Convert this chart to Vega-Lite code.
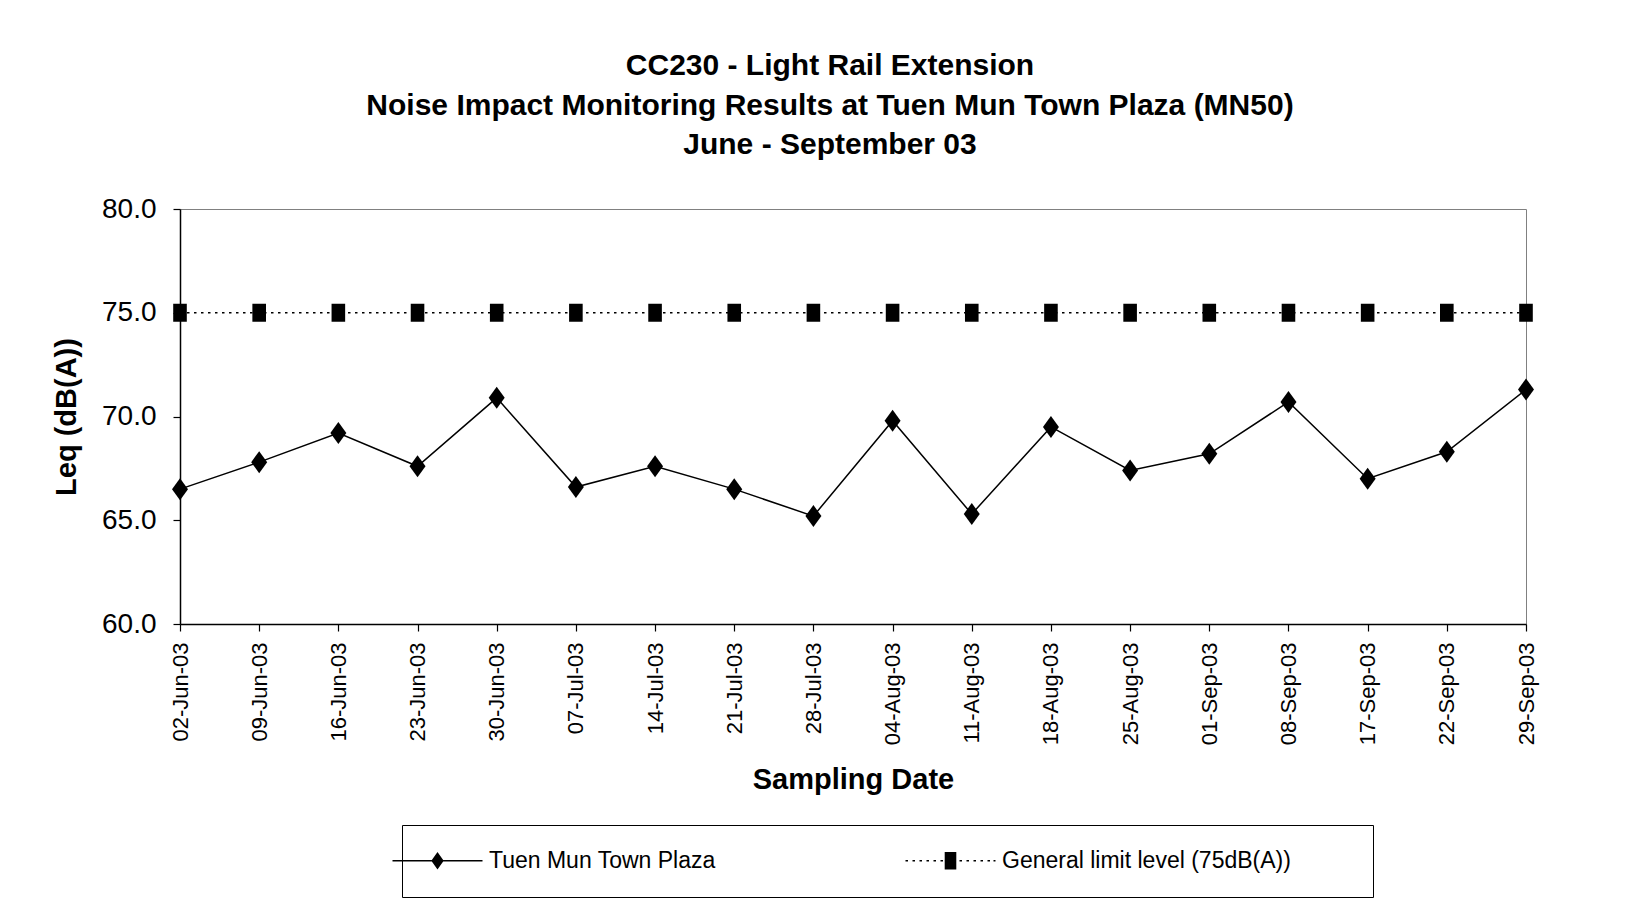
{
  "$schema": "https://vega.github.io/schema/vega-lite/v6.json",
  "width": 1346,
  "height": 415,
  "autosize": "none",
  "padding": {"left": 180, "top": 209, "right": 105, "bottom": 288},
  "background": "white",
  "title": {
    "text": ["CC230 - Light Rail Extension", "Noise Impact Monitoring Results at Tuen Mun Town Plaza (MN50)", "June - September 03"],
    "font": "Liberation Sans",
    "fontSize": 30,
    "fontWeight": "bold",
    "lineHeight": 39.5,
    "anchor": "middle",
    "frame": "group",
    "dx": -23,
    "offset": 35,
    "color": "black"
  },
  "data": {
    "values": [
      {"date": "02-Jun-03", "series": "Tuen Mun Town Plaza", "leq": 66.5},
      {"date": "09-Jun-03", "series": "Tuen Mun Town Plaza", "leq": 67.8},
      {"date": "16-Jun-03", "series": "Tuen Mun Town Plaza", "leq": 69.2},
      {"date": "23-Jun-03", "series": "Tuen Mun Town Plaza", "leq": 67.6},
      {"date": "30-Jun-03", "series": "Tuen Mun Town Plaza", "leq": 70.9},
      {"date": "07-Jul-03", "series": "Tuen Mun Town Plaza", "leq": 66.6},
      {"date": "14-Jul-03", "series": "Tuen Mun Town Plaza", "leq": 67.6},
      {"date": "21-Jul-03", "series": "Tuen Mun Town Plaza", "leq": 66.5},
      {"date": "28-Jul-03", "series": "Tuen Mun Town Plaza", "leq": 65.2},
      {"date": "04-Aug-03", "series": "Tuen Mun Town Plaza", "leq": 69.8},
      {"date": "11-Aug-03", "series": "Tuen Mun Town Plaza", "leq": 65.3},
      {"date": "18-Aug-03", "series": "Tuen Mun Town Plaza", "leq": 69.5},
      {"date": "25-Aug-03", "series": "Tuen Mun Town Plaza", "leq": 67.4},
      {"date": "01-Sep-03", "series": "Tuen Mun Town Plaza", "leq": 68.2},
      {"date": "08-Sep-03", "series": "Tuen Mun Town Plaza", "leq": 70.7},
      {"date": "17-Sep-03", "series": "Tuen Mun Town Plaza", "leq": 67.0},
      {"date": "22-Sep-03", "series": "Tuen Mun Town Plaza", "leq": 68.3},
      {"date": "29-Sep-03", "series": "Tuen Mun Town Plaza", "leq": 71.3},
      {"date": "02-Jun-03", "series": "General limit level (75dB(A))", "leq": 75},
      {"date": "09-Jun-03", "series": "General limit level (75dB(A))", "leq": 75},
      {"date": "16-Jun-03", "series": "General limit level (75dB(A))", "leq": 75},
      {"date": "23-Jun-03", "series": "General limit level (75dB(A))", "leq": 75},
      {"date": "30-Jun-03", "series": "General limit level (75dB(A))", "leq": 75},
      {"date": "07-Jul-03", "series": "General limit level (75dB(A))", "leq": 75},
      {"date": "14-Jul-03", "series": "General limit level (75dB(A))", "leq": 75},
      {"date": "21-Jul-03", "series": "General limit level (75dB(A))", "leq": 75},
      {"date": "28-Jul-03", "series": "General limit level (75dB(A))", "leq": 75},
      {"date": "04-Aug-03", "series": "General limit level (75dB(A))", "leq": 75},
      {"date": "11-Aug-03", "series": "General limit level (75dB(A))", "leq": 75},
      {"date": "18-Aug-03", "series": "General limit level (75dB(A))", "leq": 75},
      {"date": "25-Aug-03", "series": "General limit level (75dB(A))", "leq": 75},
      {"date": "01-Sep-03", "series": "General limit level (75dB(A))", "leq": 75},
      {"date": "08-Sep-03", "series": "General limit level (75dB(A))", "leq": 75},
      {"date": "17-Sep-03", "series": "General limit level (75dB(A))", "leq": 75},
      {"date": "22-Sep-03", "series": "General limit level (75dB(A))", "leq": 75},
      {"date": "29-Sep-03", "series": "General limit level (75dB(A))", "leq": 75}
    ]
  },
  "encoding": {
    "x": {
      "field": "date",
      "type": "ordinal",
      "sort": null,
      "scale": {"type": "point", "padding": 0},
      "axis": {
        "title": "Sampling Date",
        "labelAngle": -90,
        "labelFontSize": 22,
        "labelPadding": 11,
        "labelOverlap": false,
        "tickSize": 7,
        "titleFontSize": 29,
        "titleFontWeight": "bold",
        "titleX": 673,
        "titleY": 155,
        "titleBaseline": "middle",
        "titleAlign": "center"
      }
    },
    "y": {
      "field": "leq",
      "type": "quantitative",
      "scale": {"domain": [60, 80], "nice": false, "zero": false},
      "axis": {
        "title": "Leq (dB(A))",
        "values": [60, 65, 70, 75, 80],
        "format": ".1f",
        "labelFontSize": 28,
        "labelPadding": 17,
        "tickSize": 7,
        "titleFontSize": 29,
        "titleFontWeight": "bold",
        "titleX": -114,
        "titleY": 207.5,
        "titleAngle": 270,
        "titleBaseline": "middle",
        "titleAlign": "center"
      }
    }
  },
  "layer": [
    {
      "transform": [{"filter": "datum.series === 'Tuen Mun Town Plaza'"}],
      "mark": {"type": "line", "color": "black", "strokeWidth": 1.5},
      "encoding": {"order": {"value": null}}
    },
    {
      "transform": [{"filter": "datum.series !== 'Tuen Mun Town Plaza'"}],
      "mark": {"type": "line", "color": "black", "strokeWidth": 1.5, "strokeDash": [2.5, 4.5]},
      "encoding": {"order": {"value": null}}
    },
    {
      "mark": {"type": "point", "filled": true, "color": "black", "size": 400, "opacity": 1},
      "encoding": {
        "shape": {
          "field": "series",
          "type": "nominal",
          "scale": {
            "domain": ["Tuen Mun Town Plaza", "General limit level (75dB(A))"],
            "range": ["M0,-1.1L0.8,0L0,1.1L-0.8,0Z", "M-0.68,-0.9H0.68V0.9H-0.68Z"]
          },
          "legend": null
        }
      }
    },
    {
      "mark": {"type": "point", "filled": true, "color": "black", "size": 400, "opacity": 0},
      "encoding": {
        "shape": {
          "field": "series",
          "type": "nominal",
          "scale": {
            "domain": ["Tuen Mun Town Plaza", "General limit level (75dB(A))"],
            "range": [
              "M-4.5,-0.07H4.5V0.07H-4.5ZM0,-0.88L0.62,0L0,0.88L-0.62,0Z",
              "M-4.5,-0.07H-4.25V0.07H-4.5ZM-3.8,-0.07H-3.55V0.07H-3.8ZM-3.1,-0.07H-2.85V0.07H-3.1ZM-2.4,-0.07H-2.15V0.07H-2.4ZM-1.7,-0.07H-1.45V0.07H-1.7ZM-1.0,-0.07H-0.75V0.07H-1.0ZM-0.58,-0.88H0.58V0.88H-0.58ZM0.9,-0.07H1.15V0.07H0.9ZM1.6,-0.07H1.85V0.07H1.6ZM2.3,-0.07H2.55V0.07H2.3ZM3.0,-0.07H3.25V0.07H3.0ZM3.7,-0.07H3.95V0.07H3.7ZM4.3,-0.07H4.5V0.07H4.3ZM39.5,0"
            ]
          },
          "legend": {
            "title": null,
            "orient": "none",
            "legendX": 222,
            "legendY": 616,
            "direction": "horizontal",
            "strokeColor": "black",
            "fillColor": "white",
            "padding": 24,
            "symbolSize": 400,
            "symbolOpacity": 1,
            "symbolFillColor": "black",
            "labelFontSize": 23,
            "labelColor": "black",
            "labelLimit": 500,
            "labelOffset": 40,
            "columnPadding": 186
          }
        }
      }
    }
  ],
  "resolve": {"scale": {"shape": "independent"}, "legend": {"shape": "independent"}},
  "config": {
    "font": "Liberation Sans",
    "view": {"stroke": "#808080", "strokeWidth": 1},
    "axis": {
      "grid": false,
      "domainColor": "black",
      "domainWidth": 1.5,
      "tickColor": "black",
      "tickWidth": 1.2,
      "labelColor": "black",
      "titleColor": "black",
      "labelFont": "Liberation Sans",
      "titleFont": "Liberation Sans"
    },
    "legend": {"labelFont": "Liberation Sans"}
  }
}
